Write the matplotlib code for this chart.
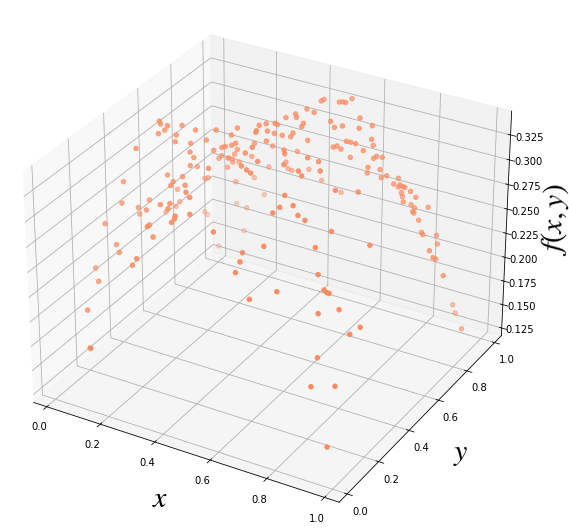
import matplotlib
matplotlib.use("Agg")
import matplotlib.pyplot as plt

plt.rcParams['mathtext.fontset'] = 'stix'

x_vals = [
    .098,.112,.129,.168,.123,.111,.157,.206,.149,.190,.052,.190,.199,.189,.156,.124,.220,.177,.184,.270,
    .013,.056,.296,.323,.078,.006,.250,.200,.017,.002,.046,.255,.132,-.020,.003,.359,.305,.306,.303,-.024,
    .205,.198,.472,.470,.458,.489,.444,.458,.430,.377,.397,.420,.424,.497,.490,.313,.262,.367,.364,.398,
    .418,.467,.439,.460,.300,.235,.505,.395,.336,.312,.355,.412,.301,.281,.275,.269,.249,.513,.527,.408,
    .412,.236,.213,.201,.258,.588,.370,.213,.204,.480,.215,.333,.560,.617,.438,.174,.269,.322,.332,.324,
    .465,.606,.390,.651,.486,.624,.205,.115,.108,.412,.153,.621,.656,.130,.626,.619,.686,.707,.523,.532,
    .542,.547,.633,.564,.581,.605,.651,.685,.614,.628,.640,.577,.590,.598,.682,.687,.664,.625,.692,.700,
    .712,.674,.708,.671,.712,.727,.761,.748,.764,.768,.775,.783,.799,.772,.775,.814,.776,.800,.808,.849,
    .802,.804,.822,.720,.463,.755,.248,.052,.107,.215,.205,-.028,.053,.059,.137,.147,.471,.001,.635,.767,
    .586,.589,.800,.585,.831,.840,.848,.719,.652,.843,.886,.880,.779,.849,.865,.871,.877,.868,.919,.938,
    .938,.979,.946,.927,.888,.944,.970,.168,.060,-.024,-.025,.086,.883,.893,.976,
]
y_vals = [
    .491,.476,.489,.513,.482,.463,.495,.531,.501,.527,.424,.522,.530,.524,.620,.491,.427,.440,.414,.361,
    .406,.658,.324,.302,.454,.404,.303,.326,.733,.733,.437,.283,.351,.705,.511,.243,.244,.238,.226,.349,
    .253,.251,.880,.866,.795,.786,.747,.728,.710,.634,.643,.659,.667,.703,.705,.608,.563,.634,.635,.649,
    .658,.690,.671,.688,.593,.548,.717,.648,.674,.598,.757,.531,.592,.587,.576,.681,.569,.553,.533,.823,
    .488,.719,.677,.680,.790,.569,.456,.743,.760,.448,.782,.881,.470,.587,.420,.778,.881,.914,.921,.413,
    .406,.479,.932,.536,.395,.468,.896,.753,.744,.979,.864,.369,.359,.973,.330,.300,.336,.342,.888,.894,
    .896,.929,.824,.758,.752,.761,.785,.809,.772,.773,.784,.753,.753,.765,.811,.814,.791,.778,.809,.814,
    .829,.806,.823,.807,.825,.833,.848,.842,.844,.847,.853,.852,.861,.850,.852,.869,.857,.865,.874,.888,
    .873,.878,.878,.508,1.019,.591,.205,.296,.228,.160,.150,.293,.187,.111,.002,-.008,.196,1.003,.218,.300,
    .174,.154,.259,.134,.241,.242,.242,.151,.102,.184,.236,.115,.378,.847,.824,.910,.906,.461,.766,.755,
    .774,.748,.261,.230,.062,.110,.017,1.025,1.025,.956,.976,1.029,1.022,1.021,.902,
]
z_vals = [
    .340,.340,.338,.338,.334,.332,.330,.334,.322,.320,.318,.312,.306,.298,.282,.288,.302,.292,.292,.306,
    .284,.246,.306,.306,.264,.262,.294,.286,.220,.214,.256,.292,.272,.210,.236,.300,.294,.292,.290,.246,
    .276,.274,.340,.340,.340,.340,.340,.340,.340,.338,.340,.340,.338,.340,.336,.334,.334,.332,.330,.332,
    .330,.330,.328,.326,.328,.324,.322,.322,.312,.320,.300,.332,.318,.316,.316,.300,.312,.334,.334,.290,
    .332,.288,.290,.286,.278,.330,.328,.278,.272,.334,.270,.266,.334,.326,.330,.262,.256,.254,.252,.320,
    .330,.330,.256,.326,.330,.328,.238,.250,.250,.240,.234,.322,.316,.190,.316,.314,.312,.308,.340,.340,
    .340,.340,.340,.340,.336,.338,.336,.338,.322,.322,.320,.316,.318,.314,.324,.318,.314,.306,.306,.308,
    .306,.296,.294,.290,.286,.288,.286,.280,.278,.280,.278,.278,.274,.272,.268,.268,.262,.260,.256,.258,
    .252,.250,.244,.316,.226,.306,.274,.238,.244,.256,.250,.208,.216,.198,.182,.184,.298,.134,.294,.292,
    .290,.284,.274,.276,.264,.262,.262,.266,.260,.250,.250,.220,.298,.238,.240,.228,.220,.280,.236,.232,
    .228,.218,.234,.230,.200,.198,.154,.200,.182,.176,.170,.154,.140,.132,.140,
]

fig = plt.figure(figsize=(569/72, 529/72), dpi=72)
ax = fig.add_axes([-0.0132, -0.0142, 0.956, 1.028], projection='3d')
ax.view_init(elev=30, azim=-60)

ax.scatter(x_vals, y_vals, z_vals, c='#ff8a5e')

ax.set_xlim(-0.05, 1.05)
ax.set_ylim(-0.05, 1.05)
ax.set_zlim(0.1168, 0.3487)
ax.set_xlabel('$x$', fontsize=30, labelpad=13)
ax.set_ylabel('$y$', fontsize=30, labelpad=13)
ax.set_zlabel('$f(x,y)$', fontsize=30, labelpad=9)

fig.savefig('out.png', dpi=72)
